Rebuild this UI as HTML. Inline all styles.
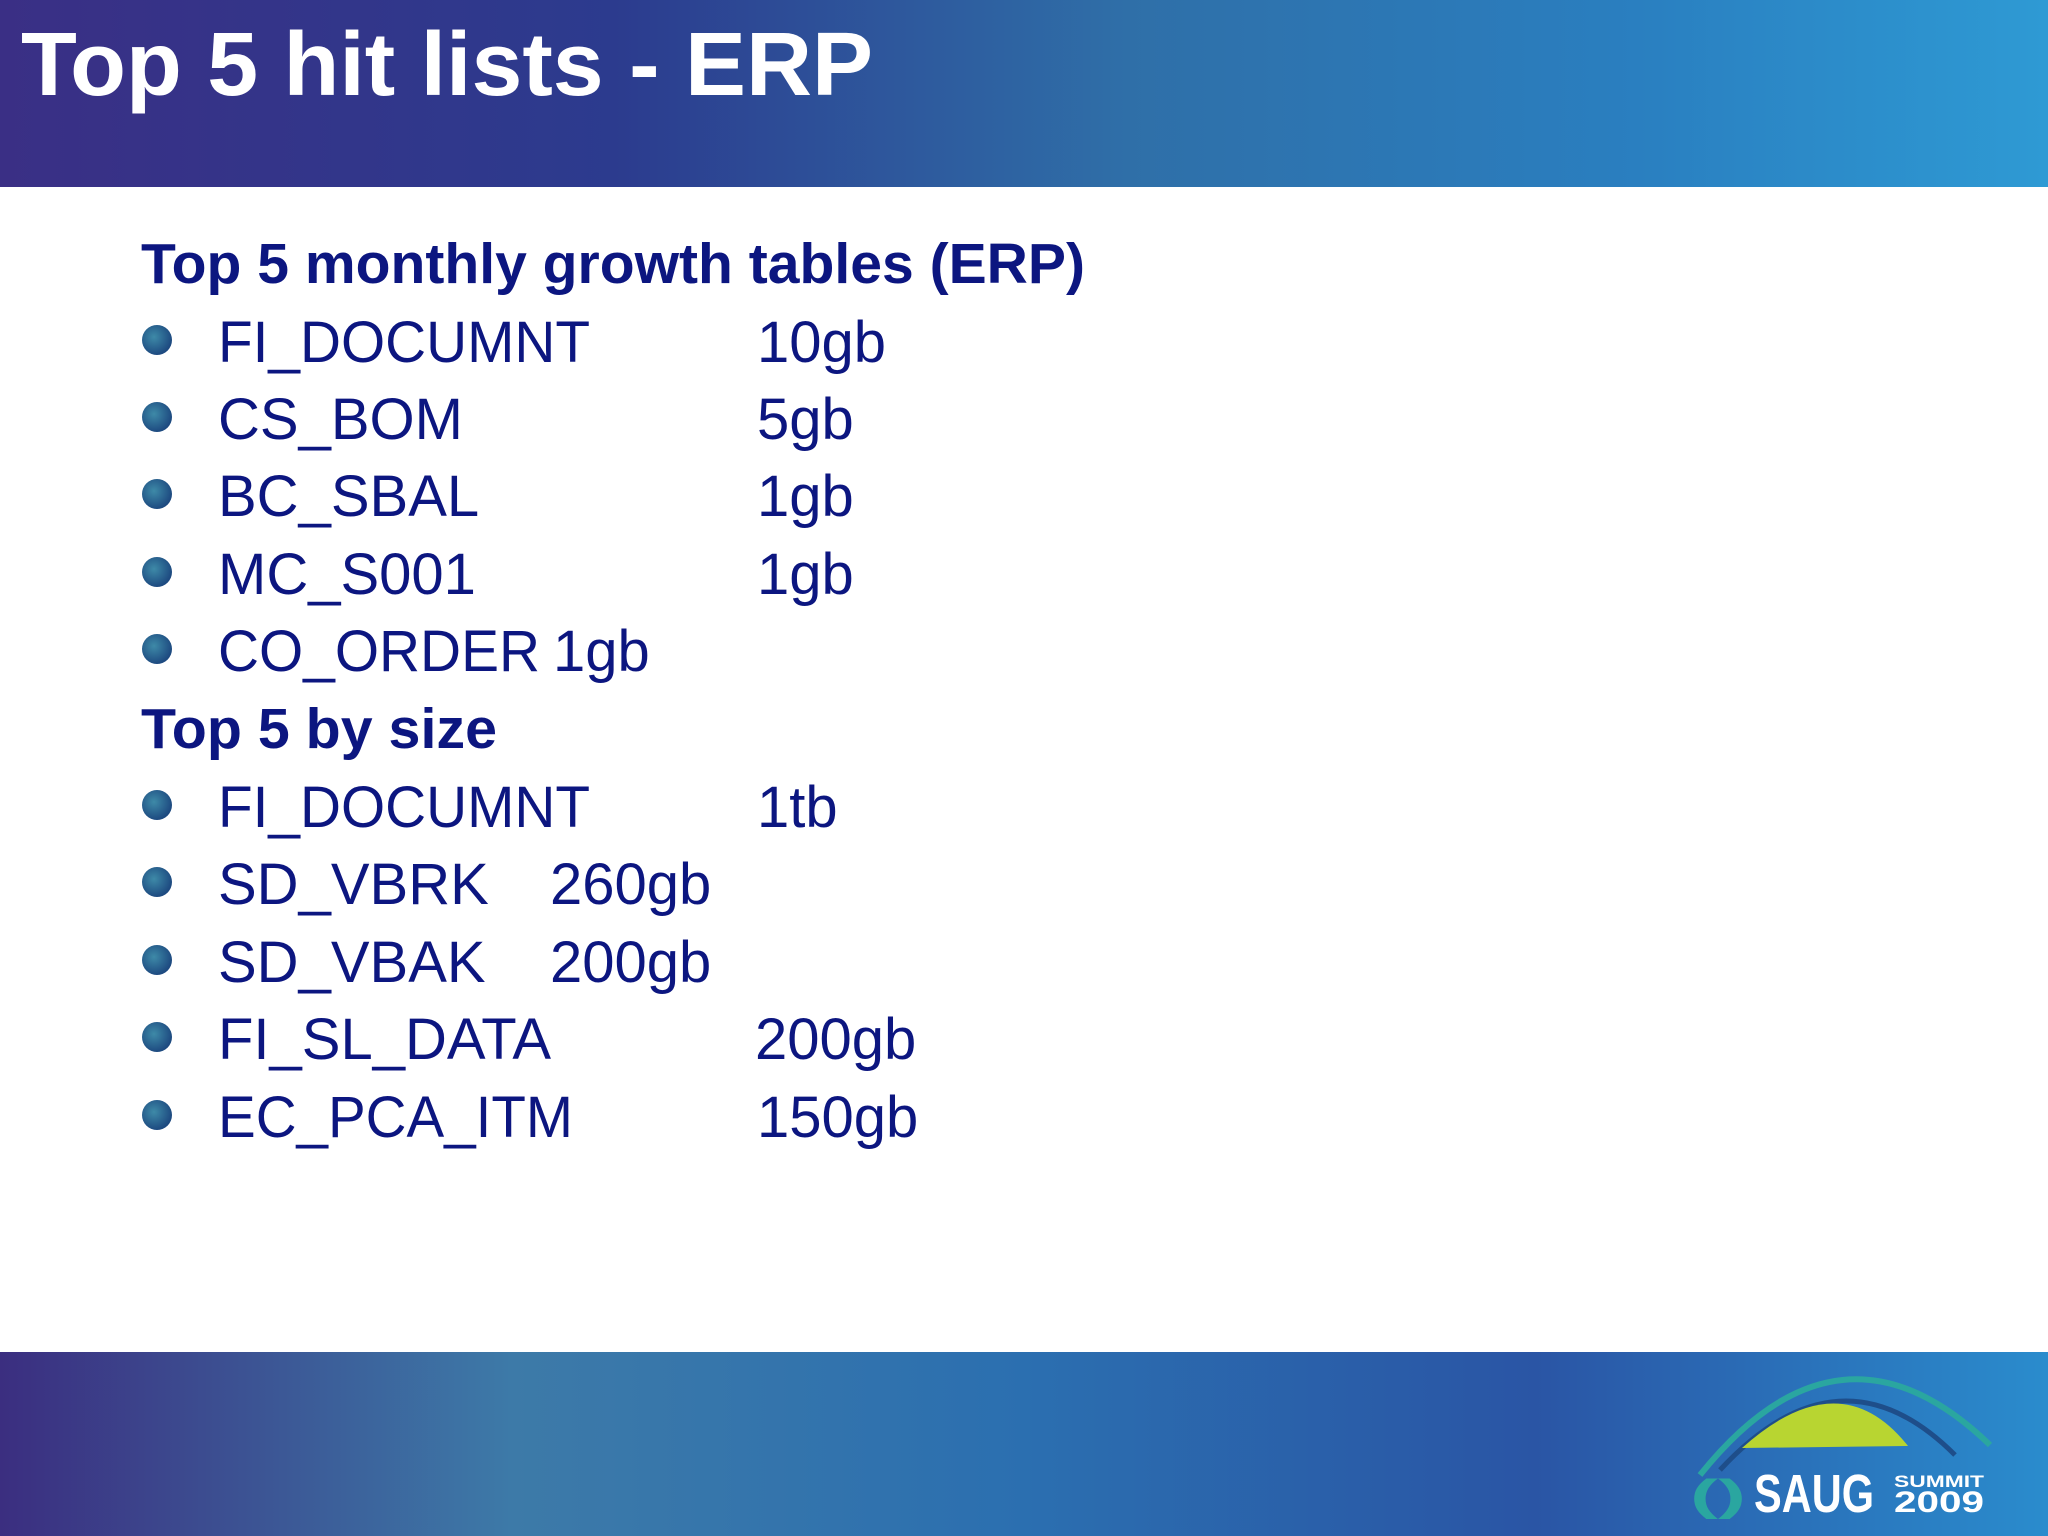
<!DOCTYPE html>
<html><head><meta charset="utf-8"><style>
html,body{margin:0;padding:0;width:2048px;height:1536px;overflow:hidden;background:#fff}
svg{display:block}
</style></head><body>
<svg width="2048" height="1536" viewBox="0 0 2048 1536" xmlns="http://www.w3.org/2000/svg" font-family="Liberation Sans, Arial, sans-serif">
<defs>
<linearGradient id="hg" x1="0" y1="0" x2="1" y2="0">
<stop offset="0" stop-color="#3a2f85"/><stop offset="0.3" stop-color="#2c3b8e"/><stop offset="0.55" stop-color="#2f6fa8"/><stop offset="0.8" stop-color="#2a7fc0"/><stop offset="1" stop-color="#2e9ad4"/></linearGradient>
<linearGradient id="fg" x1="0" y1="0" x2="1" y2="0">
<stop offset="0" stop-color="#3b2e80"/><stop offset="0.25" stop-color="#3d7aa8"/><stop offset="0.5" stop-color="#2b6fb0"/><stop offset="0.75" stop-color="#2a55a5"/><stop offset="1" stop-color="#2a8ccd"/></linearGradient>
<radialGradient id="bul" cx="0.4" cy="0.4" r="0.6"><stop offset="0" stop-color="#3e8aa8"/><stop offset="1" stop-color="#1d4a80"/></radialGradient>
</defs>
<rect x="0" y="0" width="2048" height="187" fill="url(#hg)"/>
<text x="21" y="95" font-size="90" font-weight="bold" fill="#fff" textLength="852" lengthAdjust="spacingAndGlyphs">Top 5 hit lists - ERP</text>
<rect x="0" y="1352" width="2048" height="184" fill="url(#fg)"/>
<g>
<path d="M1700 1475 Q1840 1300 1990 1445" stroke="#2aa6a0" stroke-width="6" fill="none"/>
<path d="M1720 1470 Q1840 1340 1955 1455" stroke="#1e4e8a" stroke-width="5" fill="none"/>
<path d="M1742 1448 Q1840 1360 1908 1446 Z" fill="#b8d531"/>
<text x="1690" y="1510" font-size="44" font-weight="bold" fill="#2aa6a0" textLength="56" lengthAdjust="spacingAndGlyphs">()</text>
<text x="1754" y="1512" font-size="54" font-weight="bold" fill="#fff" textLength="120" lengthAdjust="spacingAndGlyphs">SAUG</text>
<text x="1894" y="1487" font-size="17" font-weight="bold" fill="#fff" textLength="90" lengthAdjust="spacingAndGlyphs">SUMMIT</text>
<text x="1894" y="1512" font-size="30" font-weight="bold" fill="#fff" textLength="90" lengthAdjust="spacingAndGlyphs">2009</text>
</g>
<g fill="#0c1680">
<text x="141" y="283" font-size="57" font-weight="bold" textLength="944" lengthAdjust="spacingAndGlyphs">Top 5 monthly growth tables (ERP)</text>
<text x="141" y="748" font-size="57" font-weight="bold" textLength="356" lengthAdjust="spacingAndGlyphs">Top 5 by size</text>
<g font-size="58">
<text x="218" y="362" textLength="372" lengthAdjust="spacingAndGlyphs">FI_DOCUMNT</text><text x="757" y="362">10gb</text>
<text x="218" y="439">CS_BOM</text><text x="757" y="439">5gb</text>
<text x="218" y="516">BC_SBAL</text><text x="757" y="516">1gb</text>
<text x="218" y="594">MC_S001</text><text x="757" y="594">1gb</text>
<text x="218" y="671" textLength="322" lengthAdjust="spacingAndGlyphs">CO_ORDER</text><text x="553" y="671">1gb</text>
<text x="218" y="827" textLength="372" lengthAdjust="spacingAndGlyphs">FI_DOCUMNT</text><text x="757" y="827">1tb</text>
<text x="218" y="904">SD_VBRK</text><text x="550" y="904">260gb</text>
<text x="218" y="982">SD_VBAK</text><text x="550" y="982">200gb</text>
<text x="218" y="1059">FI_SL_DATA</text><text x="755" y="1059">200gb</text>
<text x="218" y="1137" textLength="355" lengthAdjust="spacingAndGlyphs">EC_PCA_ITM</text><text x="757" y="1137">150gb</text>
</g>
</g>
<g fill="url(#bul)">
<circle cx="157" cy="340" r="15"/>
<circle cx="157" cy="417" r="15"/>
<circle cx="157" cy="494" r="15"/>
<circle cx="157" cy="572" r="15"/>
<circle cx="157" cy="649" r="15"/>
<circle cx="157" cy="805" r="15"/>
<circle cx="157" cy="882" r="15"/>
<circle cx="157" cy="960" r="15"/>
<circle cx="157" cy="1037" r="15"/>
<circle cx="157" cy="1115" r="15"/>
</g>
</svg>
</body></html>
